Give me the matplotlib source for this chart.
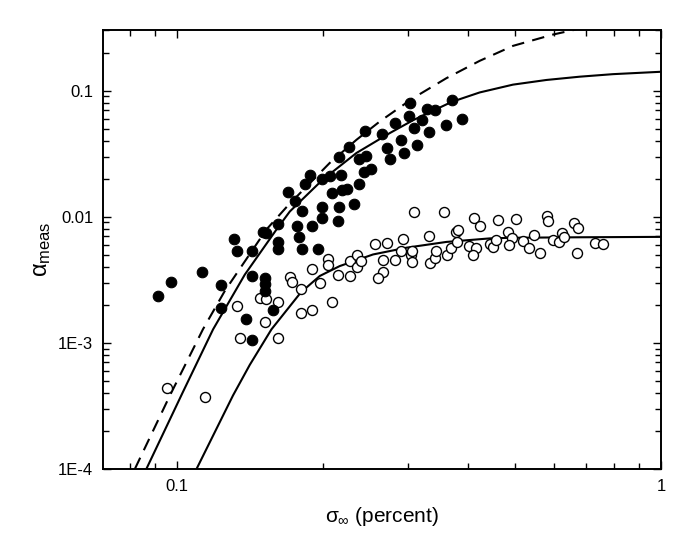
import matplotlib
matplotlib.use("Agg")
import matplotlib.pyplot as plt
from matplotlib.ticker import FixedLocator, FixedFormatter, NullFormatter

plt.rcParams['font.family'] = ['Liberation Sans', 'DejaVu Sans']
plt.rcParams['mathtext.fontset'] = 'custom'
plt.rcParams['mathtext.rm'] = 'Liberation Sans'
plt.rcParams['mathtext.it'] = 'Liberation Sans'
plt.rcParams['mathtext.sf'] = 'Liberation Sans'

# ---- data: filled circles ----
filled_x = [0.0912, 0.097, 0.1125, 0.1234, 0.1234, 0.131, 0.1328, 0.1427, 0.1427, 0.1503,
            0.1525, 0.1518, 0.1518, 0.1518, 0.1576, 0.1387, 0.1427, 0.1615, 0.1615, 0.1615,
            0.1768, 0.181, 0.179, 0.181, 0.1953, 0.1694, 0.1751, 0.184, 0.188, 0.1898,
            0.1991, 0.1991, 0.1991, 0.2068, 0.2087, 0.2158, 0.2179, 0.2158, 0.2148, 0.219,
            0.2242, 0.2263, 0.232, 0.2373, 0.2373, 0.243, 0.2454, 0.2513, 0.2445, 0.2649,
            0.2713, 0.2751, 0.2817, 0.2899, 0.294, 0.3025, 0.3011, 0.3083, 0.3128, 0.3203,
            0.3279, 0.3407, 0.3311, 0.359, 0.3694, 0.3883]
filled_y = [0.00235, 0.00306, 0.00364, 0.0029, 0.0019, 0.0066, 0.0053, 0.0053, 0.00339, 0.0076,
            0.0074, 0.00329, 0.00291, 0.00258, 0.00181, 0.00154, 0.00106, 0.0088, 0.0063, 0.0055,
            0.0084, 0.0111, 0.0069, 0.0055, 0.0055, 0.0158, 0.0134, 0.0183, 0.0214, 0.0084,
            0.0198, 0.0119, 0.0098, 0.0209, 0.0155, 0.0299, 0.0216, 0.0119, 0.0092, 0.0164,
            0.0166, 0.0357, 0.0127, 0.0183, 0.0285, 0.0228, 0.0303, 0.0239, 0.048, 0.0455,
            0.0348, 0.0285, 0.0556, 0.0408, 0.032, 0.0804, 0.0623, 0.0504, 0.0372, 0.0587,
            0.0716, 0.0704, 0.0472, 0.0533, 0.0848, 0.0596]

# ---- data: open circles ----
open_x = [0.0952, 0.1141, 0.1328, 0.1347, 0.1482, 0.1525, 0.1518, 0.1615, 0.1615, 0.171,
          0.1726, 0.180, 0.180, 0.1898, 0.190, 0.1971, 0.2048, 0.2048, 0.2087, 0.2148,
          0.2274, 0.2274, 0.2351, 0.2357, 0.2396, 0.2562, 0.2661, 0.2661, 0.2599, 0.2713,
          0.2817, 0.2899, 0.2926, 0.304, 0.3054, 0.3054, 0.3083, 0.3311, 0.3335, 0.3407,
          0.3432, 0.3557, 0.362, 0.3683, 0.3765, 0.3802, 0.379, 0.4005, 0.415, 0.408,
          0.41, 0.422, 0.4426, 0.4489, 0.4566, 0.4598, 0.482, 0.4914, 0.4845, 0.5008,
          0.5178, 0.5328, 0.547, 0.5617, 0.582, 0.5833, 0.5973, 0.6146, 0.6235, 0.629,
          0.66, 0.6727, 0.672, 0.7295, 0.7577]
open_y = [0.000438, 0.000374, 0.00197, 0.0011, 0.00228, 0.00224, 0.00147, 0.0021, 0.0011, 0.00333,
          0.00306, 0.00269, 0.00174, 0.00181, 0.00387, 0.00296, 0.00463, 0.00416, 0.00209, 0.00347,
          0.00449, 0.00339, 0.00498, 0.00399, 0.00447, 0.0061, 0.00456, 0.00364, 0.00329, 0.0062,
          0.00456, 0.00534, 0.0067, 0.00493, 0.00534, 0.0044, 0.0108, 0.0070, 0.00432, 0.0047,
          0.0053, 0.0109, 0.0050, 0.00568, 0.0075, 0.0079, 0.0063, 0.00584, 0.00568, 0.00498,
          0.0098, 0.0085, 0.0061, 0.0058, 0.0065, 0.0094, 0.0075, 0.0068, 0.0060, 0.0096,
          0.0064, 0.00568, 0.0071, 0.00518, 0.0101, 0.0093, 0.0065, 0.0063, 0.0074, 0.0069,
          0.0089, 0.0082, 0.00512, 0.0062, 0.0061]

# ---- model curves ----
upper_x = [0.0864, 0.1028, 0.1187, 0.138, 0.1605, 0.171, 0.2, 0.2348, 0.2751, 0.3074,
           0.3694, 0.422, 0.4944, 0.5797, 0.6793, 0.796, 1.0]
upper_y = [1.0e-4, 4.07e-4, 1.28e-3, 3.47e-3, 7.92e-3, 1.10e-2, 1.968e-2, 3.2e-2, 4.6e-2, 5.82e-2,
           8.13e-2, 9.66e-2, 0.1114, 0.1213, 0.1288, 0.1349, 0.1409]

dashed_x = [0.0818, 0.0966, 0.1131, 0.1255, 0.153, 0.1696, 0.2068, 0.2348, 0.2624, 0.3074,
            0.3602, 0.422, 0.4944, 0.5983, 0.67]
dashed_y = [1.0e-4, 3.81e-4, 1.28e-3, 2.58e-3, 7.92e-3, 1.23e-2, 2.67e-2, 4.07e-2, 5.69e-2, 8.71e-2,
            0.1253, 0.172, 0.226, 0.278, 0.306]

lower_x = [0.1097, 0.1305, 0.1413, 0.1567, 0.1802, 0.1972, 0.2168, 0.2541, 0.2979, 0.3602,
           0.4427, 0.4944, 0.6793, 1.0]
lower_y = [1.0e-4, 3.83e-4, 6.68e-4, 1.28e-3, 2.51e-3, 3.39e-3, 4.06e-3, 5.02e-3, 5.68e-3, 6.31e-3,
           6.73e-3, 6.81e-3, 6.87e-3, 6.92e-3]

x_major = [0.1, 1.0]
x_major_labels = ['0.1', '1']
x_minor = [0.08, 0.09, 0.2, 0.3, 0.4, 0.5, 0.6, 0.7, 0.8, 0.9]
y_major = [1e-4, 1e-3, 1e-2, 1e-1]
y_major_labels = ['1E-4', '1E-3', '0.01', '0.1']
y_minor = [m * 10.0 ** e for e in (-4, -3, -2, -1) for m in range(2, 10)]

fig = plt.figure(figsize=(6.92, 5.48), dpi=100)
ax = fig.add_axes([103 / 692, 1 - 469 / 548, (661 - 103) / 692, (469 - 30) / 548])
ax.set_xscale('log')
ax.set_yscale('log')

ax.plot(dashed_x, dashed_y, color='black', lw=1.5, ls=(0, (6, 4)), zorder=2)
ax.plot(upper_x, upper_y, color='black', lw=1.5, zorder=2)
ax.plot(lower_x, lower_y, color='black', lw=1.5, zorder=2)

ax.plot(open_x, open_y, ls='none', marker='o', ms=7.2, mfc='white', mec='black', mew=1.0, zorder=3)
ax.plot(filled_x, filled_y, ls='none', marker='o', ms=7.6, mfc='black', mec='black', mew=0.8, zorder=4)

ax.set_xlim(0.0703, 1.0)
ax.set_ylim(1e-4, 0.302)

ax.xaxis.set_major_locator(FixedLocator(x_major))
ax.xaxis.set_major_formatter(FixedFormatter(x_major_labels))
ax.xaxis.set_minor_locator(FixedLocator(x_minor))
ax.xaxis.set_minor_formatter(NullFormatter())
ax.yaxis.set_major_locator(FixedLocator(y_major))
ax.yaxis.set_major_formatter(FixedFormatter(y_major_labels))
ax.yaxis.set_minor_locator(FixedLocator(y_minor))
ax.yaxis.set_minor_formatter(NullFormatter())

ax.tick_params(which='both', direction='in', top=True, right=True, width=1.0, colors='black',
               labelsize=12, pad=7)
ax.tick_params(which='major', length=6)
ax.tick_params(which='minor', length=4)
for s in ax.spines.values():
    s.set_linewidth(1.4)

ax.set_xlabel(r'$\sigma_{\infty}$ (percent)', fontsize=15, labelpad=8)
ax.set_ylabel(r'$\alpha_{\mathrm{meas}}$', fontsize=17, labelpad=4)

fig.savefig('out.png', dpi=100)
